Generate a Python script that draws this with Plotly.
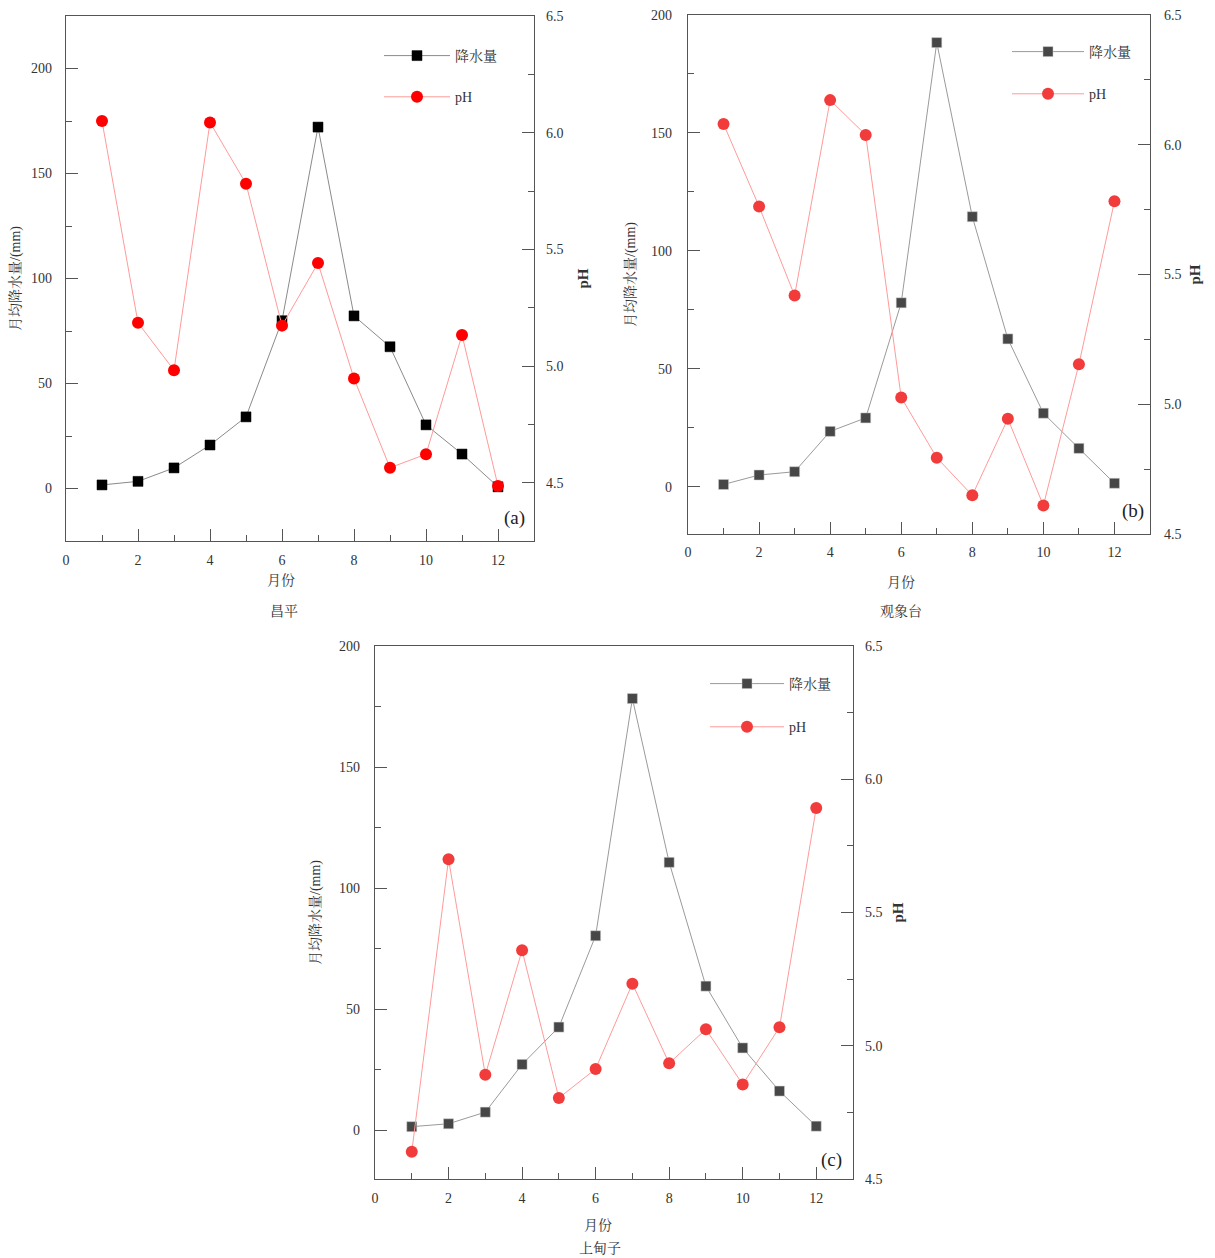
import plotly.graph_objects as go

months = list(range(1, 13))

# Panel (a) 昌平
precip_a = [1.7, 3.4, 9.8, 20.7, 34.1, 79.9, 172.1, 82.2, 67.5, 30.3, 16.4, 0.8]
ph_a = [6.05, 5.185, 4.982, 6.044, 5.781, 5.173, 5.441, 4.946, 4.564, 4.622, 5.133, 4.486]
# Panel (b) 观象台
precip_b = [1.0, 5.0, 6.4, 23.5, 29.2, 78.0, 188.3, 114.5, 62.7, 31.2, 16.3, 1.5]
ph_b = [6.08, 5.762, 5.419, 6.172, 6.038, 5.026, 4.794, 4.649, 4.944, 4.610, 5.154, 5.782]
# Panel (c) 上甸子
precip_c = [1.6, 2.8, 7.6, 27.3, 42.7, 80.4, 178.3, 110.7, 59.6, 34.1, 16.3, 1.8]
ph_c = [4.602, 5.70, 4.891, 5.358, 4.804, 4.913, 5.233, 4.934, 5.062, 4.855, 5.069, 5.892]

sites = ["昌平", "观象台", "上甸子"]
labels = ["(a)", "(b)", "(c)"]
series_names = ["降水量", "pH"]
x_title = "月份"
y_title = "月均降水量/(mm)"
y2_title = "pH"

W, H = 1215, 1258
FONT = "Liberation Serif, 'Noto Serif CJK SC', 'Noto Sans CJK SC', serif"
AX = "#555555"
TXT = "#333333"

def px_x(p):
    return p / W

def px_y(p):
    return 1 - p / H

panels = [
    dict(p=precip_a, ph=ph_a, box=(66, 534, 16, 541), yr=[-25, 225], pr=[4.25, 6.5],
         sq="#000000", sqline="#000000", circ="#ff0000", pline="#ff9a9a", gline="#8a8a8a",
         leg=(379, 40), itemw=66, gap=20,
         tls_l=10, st_l=7, tls_r=8, st_r=15, tls_b=6,
         xt=(281, 581), site=(284, 611), lab=(527, 518)),
    dict(p=precip_b, ph=ph_b, box=(688, 1150, 15, 534), yr=[-20, 200], pr=[4.5, 6.5],
         sq="#474747", sqline="#cfcfcf", circ="#f23c3c", pline="#ff9a9a", gline="#9a9a9a",
         leg=(1007, 36), itemw=72, gap=21,
         tls_l=12, st_l=12, tls_r=10, st_r=9, tls_b=5,
         xt=(901, 582), site=(901, 611), lab=(1146, 511)),
    dict(p=precip_c, ph=ph_c, box=(375, 853, 646, 1179), yr=[-20, 200], pr=[4.5, 6.5],
         sq="#474747", sqline="#cfcfcf", circ="#f23c3c", pline="#ff9a9a", gline="#9a9a9a",
         leg=(705, 668), itemw=74, gap=22,
         tls_l=11, st_l=15, tls_r=8, st_r=11, tls_b=6,
         xt=(598, 1225), site=(600, 1248), lab=(844, 1160)),
]

fig = go.Figure()
layout = dict(width=W, height=H, margin=dict(l=0, r=0, t=0, b=0, autoexpand=False),
              paper_bgcolor="white", plot_bgcolor="white",
              font=dict(family=FONT, size=14, color=TXT), annotations=[])

for i, pn in enumerate(panels):
    xi = "" if i == 0 else str(i + 1)
    yl = str(2 * i + 1) if i > 0 else ""
    yr_ = str(2 * i + 2)
    legname = "legend" if i == 0 else f"legend{i + 1}"
    x0, x1, y0, y1 = pn["box"]
    fig.add_trace(go.Scatter(
        x=months, y=pn["p"], name=series_names[0], mode="lines+markers",
        xaxis="x" + xi, yaxis="y" + yl, legend=legname, legendgroup=f"p{i}",
        line=dict(color=pn["gline"], width=1),
        marker=dict(symbol="square", size=10, color=pn["sq"], line=dict(color=pn["sqline"], width=0.5))))
    fig.add_trace(go.Scatter(
        x=months, y=pn["ph"], name=series_names[1], mode="lines+markers",
        xaxis="x" + xi, yaxis="y" + yr_, legend=legname, legendgroup=f"h{i}",
        line=dict(color=pn["pline"], width=1),
        marker=dict(symbol="circle", size=12, color=pn["circ"])))

    common = dict(showline=True, linecolor=AX, linewidth=1.3, ticks="inside",
                  tickcolor=AX, ticklen=12, tickwidth=1, showgrid=False, zeroline=False,
                  automargin=False,
                  tickfont=dict(family=FONT, size=14, color=TXT))
    layout["xaxis" + xi] = dict(common, domain=[px_x(x0), px_x(x1)], anchor="y" + yl,
                               range=[0, 13], dtick=2, tick0=0, mirror=True,
                               ticklabelstandoff=pn["tls_b"],
                               minor=dict(dtick=1, ticklen=6, ticks="inside", tickcolor=AX))
    layout["yaxis" + yl] = dict(common, domain=[px_y(y1), px_y(y0)], anchor="x" + xi,
                               range=pn["yr"], dtick=50, tick0=0,
                               ticklabelstandoff=pn["tls_l"],
                               minor=dict(dtick=25, ticklen=6, ticks="inside", tickcolor=AX),
                               title=dict(text=y_title, standoff=pn["st_l"], font=dict(size=14)))
    layout["yaxis" + yr_] = dict(common, overlaying="y" + yl, side="right", anchor="x" + xi,
                                range=pn["pr"], dtick=0.5, tick0=4.5, tickformat=".1f",
                                ticklabelstandoff=pn["tls_r"],
                                minor=dict(dtick=0.25, ticklen=6, ticks="inside", tickcolor=AX),
                                title=dict(text="<b>" + y2_title + "</b>", standoff=pn["st_r"],
                                           font=dict(size=15)))
    lx, ly = pn["leg"]
    layout[legname] = dict(x=px_x(lx), y=px_y(ly), xanchor="left", yanchor="top",
                           bgcolor="rgba(0,0,0,0)", itemwidth=pn["itemw"], tracegroupgap=pn["gap"],
                           font=dict(family=FONT, size=14, color=TXT))
    lbx, lby = pn["lab"]
    layout["annotations"].append(dict(text=labels[i], x=px_x(lbx), y=px_y(lby),
                                      xref="paper", yref="paper", xanchor="right", yanchor="middle",
                                      showarrow=False, font=dict(family=FONT, size=19, color="#222")))
    xtx, xty = pn["xt"]
    layout["annotations"].append(dict(text=x_title, x=px_x(xtx), y=px_y(xty),
                                      xref="paper", yref="paper", xanchor="center", yanchor="middle",
                                      showarrow=False, font=dict(family=FONT, size=14, color=TXT)))
    sx, sy = pn["site"]
    layout["annotations"].append(dict(text=sites[i], x=px_x(sx), y=px_y(sy),
                                      xref="paper", yref="paper", xanchor="center", yanchor="middle",
                                      showarrow=False, font=dict(family=FONT, size=14, color=TXT)))

fig.update_layout(**layout)
fig.write_html("out.html", config={"displayModeBar": False},
               post_script="document.body.style.margin='0';document.body.style.overflow='hidden';")
